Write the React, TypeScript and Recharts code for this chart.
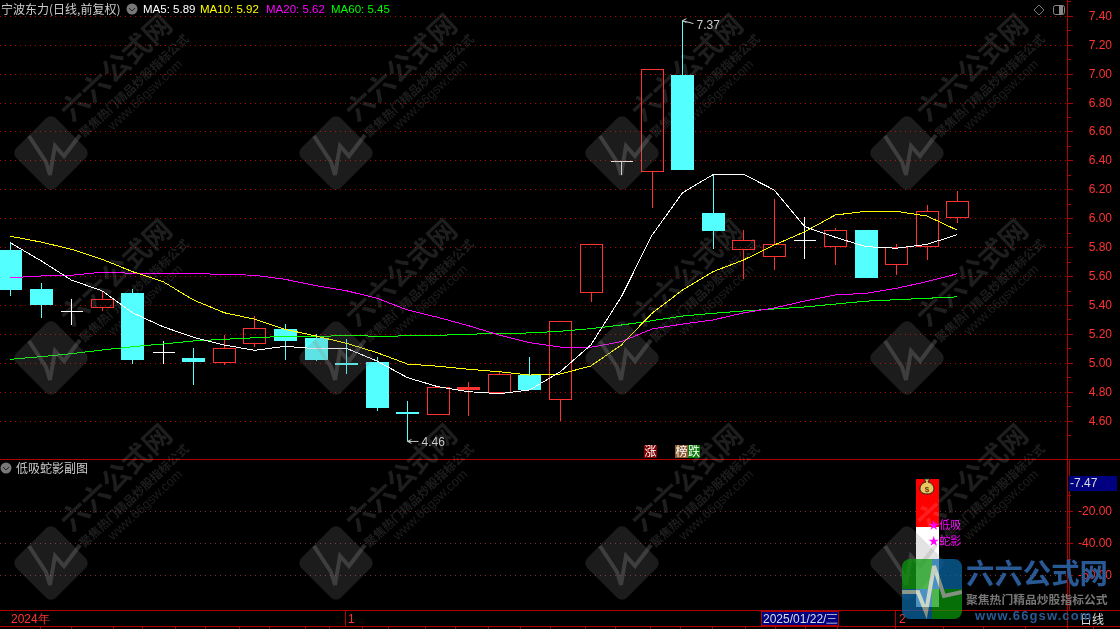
import React from 'react';
import { ComposedChart, Bar, Line, XAxis, YAxis, CartesianGrid, ReferenceDot } from 'recharts';

// daily candles, left to right
const opens = [5.784, 5.514, 5.36, 5.392, 5.486, 5.076, 5.037, 5.011, 5.143, 5.237, 5.175, 5.0, 5.009, 4.665, 4.652, 4.822, 4.804, 4.92, 4.755, 5.491, 6.397, 6.332, 6.994, 6.04, 5.789, 5.74, 5.853, 5.81, 5.922, 5.689, 5.81, 6.014];
const closes = [5.507, 5.403, 5.36, 5.443, 5.023, 5.076, 5.009, 5.106, 5.242, 5.155, 5.023, 4.995, 4.691, 4.657, 4.834, 4.836, 4.924, 4.816, 5.291, 5.823, 6.397, 7.033, 6.339, 5.917, 5.851, 5.823, 5.853, 5.92, 5.592, 5.805, 6.051, 6.121];
const highs = [5.832, 5.553, 5.445, 5.502, 5.514, 5.155, 5.106, 5.196, 5.327, 5.272, 5.202, 5.168, 5.044, 4.74, 4.834, 4.871, 4.947, 5.044, 5.291, 5.823, 6.397, 7.033, 7.37, 6.305, 5.922, 6.137, 6.012, 5.936, 5.922, 5.825, 6.095, 6.192];
const lows = [5.466, 5.314, 5.265, 5.362, 4.995, 4.995, 4.85, 4.989, 5.113, 5.023, 5.014, 4.926, 4.67, 4.46, 4.652, 4.638, 4.795, 4.816, 4.603, 5.426, 6.305, 6.076, 6.339, 5.793, 5.585, 5.648, 5.724, 5.68, 5.592, 5.611, 5.717, 5.973];

const ma5 = [5.834, 5.71, 5.576, 5.502, 5.35, 5.253, 5.18, 5.127, 5.09, 5.118, 5.101, 5.104, 5.016, 4.901, 4.838, 4.804, 4.79, 4.816, 4.942, 5.127, 5.461, 5.885, 6.18, 6.305, 6.307, 6.199, 5.945, 5.872, 5.807, 5.796, 5.823, 5.89];
const ma10 = [5.879, 5.839, 5.789, 5.72, 5.634, 5.565, 5.438, 5.35, 5.305, 5.235, 5.189, 5.139, 5.074, 4.995, 4.98, 4.959, 4.942, 4.919, 4.926, 4.982, 5.127, 5.346, 5.507, 5.634, 5.715, 5.818, 5.91, 6.026, 6.051, 6.051, 6.019, 5.92];
const ma20 = [5.592, 5.604, 5.609, 5.63, 5.623, 5.62, 5.62, 5.616, 5.609, 5.581, 5.537, 5.502, 5.45, 5.369, 5.318, 5.26, 5.196, 5.143, 5.113, 5.111, 5.15, 5.237, 5.272, 5.3, 5.349, 5.383, 5.431, 5.473, 5.484, 5.519, 5.565, 5.62];
const ma60 = [5.028, 5.046, 5.067, 5.092, 5.115, 5.134, 5.155, 5.166, 5.177, 5.187, 5.184, 5.194, 5.187, 5.19, 5.194, 5.201, 5.208, 5.21, 5.222, 5.24, 5.265, 5.295, 5.327, 5.346, 5.362, 5.376, 5.39, 5.41, 5.43, 5.44, 5.45, 5.46];

const priceTicks = [4.5, 4.6, 4.7, 4.8, 4.9, 5.0, 5.1, 5.2, 5.3, 5.4, 5.5, 5.6, 5.7, 5.8, 5.9, 6.0, 6.1, 6.2, 6.3, 6.4, 6.5, 6.6, 6.7, 6.8, 6.9, 7.0, 7.1, 7.2, 7.3, 7.4, 7.5];
const priceLabels = [4.6, 4.8, 5.0, 5.2, 5.4, 5.6, 5.8, 6.0, 6.2, 6.4, 6.6, 6.8, 7.0, 7.2, 7.4];
const subTicks = [-60, -50, -40, -30, -20, -10];
const subLabels = [-60, -40, -20];

// sub panel: one stacked column on the signal day
const signalIndex = [30];
const signalRed = [-30];
const signalWhite = [-50];

const legend = [
  { text: 'MA5: 5.89', color: '#ffffff', x: 143 },
  { text: 'MA10: 5.92', color: '#ffff00', x: 200 },
  { text: 'MA20: 5.62', color: '#ff00ff', x: 266 },
  { text: 'MA60: 5.45', color: '#00ff00', x: 331 },
];
const bottomTicks = [40, 71, 113, 142, 175, 205, 239, 269, 305, 329, 362, 388, 425, 455, 488, 520, 550, 585, 615, 650, 680, 712, 745, 775, 805, 837, 895, 943, 983, 1025, 1093];
const wmCols = [51, 336, 622, 907];
const wmRows = [153, 358, 563];

const candles = opens.map((open, i) => ({ i, open, close: closes[i], high: highs[i], low: lows[i], ma5: ma5[i], ma10: ma10[i], ma20: ma20[i], ma60: ma60[i] }));
const subData = opens.map((_, i) => {
  const k = signalIndex.indexOf(i);
  return { i, red: k >= 0 ? signalRed[k] : null, white: k >= 0 ? signalWhite[k] : null };
});

const LATIN = '"Liberation Sans", Arial, sans-serif';
const CJK = '"Noto Sans CJK SC", "Liberation Sans", sans-serif';
const RED = '#ff3232';
const CYAN = '#54ffff';
const AXIS = '#b00000';
const xDomain = [-0.337, 34.6];

function Candle(props: any) {
  const { x, y, width, height, payload } = props;
  const { open, close, high, low } = payload;
  const cx = Math.floor(x + width / 2) + 0.5;
  const unit = height / (high - low);
  const py = (v: number) => y + (high - v) * unit;
  const top = Math.round(py(Math.max(open, close))) + 0.5;
  const bottom = Math.round(py(Math.min(open, close))) + 0.5;
  const hi = Math.round(y);
  const lo = Math.round(y + height);
  if (open === close) {
    return (
      <g stroke="#fff" shapeRendering="crispEdges">
        <line x1={cx} x2={cx} y1={hi} y2={lo} />
        <line x1={cx - 11} x2={cx + 11} y1={top} y2={top} />
      </g>
    );
  }
  if (close < open) {
    return (
      <g shapeRendering="crispEdges">
        <line x1={cx} x2={cx} y1={hi} y2={lo} stroke={CYAN} />
        <rect x={cx - 11.5} y={top - 0.5} width={23} height={Math.max(bottom - top, 2)} fill={CYAN} />
      </g>
    );
  }
  // hollow body drawn with a closed path so the dotted grid shows through
  return (
    <g stroke={RED} strokeWidth={1} fill="none" shapeRendering="crispEdges">
      <line x1={cx} x2={cx} y1={hi} y2={top} />
      <line x1={cx} x2={cx} y1={bottom} y2={lo} />
      <path d={`M${cx - 11} ${top}H${cx + 11}V${bottom}H${cx - 11}Z`} fill={bottom - top < 4 ? RED : 'none'} />
    </g>
  );
}

function PriceTick(props: any) {
  const { x, y, payload } = props;
  const major = priceLabels.includes(payload.value);
  return (
    <g>
      <line x1={x} x2={x + (major ? 5 : 3)} y1={y} y2={y} stroke={AXIS} shapeRendering="crispEdges" />
      {major && (
        <text x={1112} y={y + 3.5} textAnchor="end" fill={RED} fontSize={12} fontFamily={LATIN}>
          {payload.value.toFixed(2)}
        </text>
      )}
    </g>
  );
}

function SubTick(props: any) {
  const { x, y, payload } = props;
  const major = subLabels.includes(payload.value);
  return (
    <g>
      <line x1={x} x2={x + (major ? 5 : 3)} y1={y} y2={y} stroke={AXIS} shapeRendering="crispEdges" />
      {major && (
        <text x={1112} y={y + 4} textAnchor="end" fill={RED} fontSize={12} fontFamily={LATIN}>
          {payload.value.toFixed(2)}
        </text>
      )}
    </g>
  );
}

// little grey pointer and price next to the extreme candles
function Extreme(props: any) {
  const { cx, cy, text, dy } = props;
  return (
    <g>
      <path d={`M${cx + 4} ${cy - 2}L${cx} ${cy}L${cx + 4} ${cy + 2}M${cx} ${cy}L${cx + 11} ${cy + dy}`} stroke="#ccc" fill="none" />
      <text x={cx + 14} y={cy + dy + 5} fill="#ccc" fontSize={12} fontFamily={LATIN}>{text}</text>
    </g>
  );
}

function MoneyBag(props: any) {
  const { cx, cy } = props;
  return (
    <g>
      <path d={`M${cx - 3} ${cy - 8}h6l-2 3c4 1 6 4 6 7c0 3 -3 5 -7 5s-7 -2 -7 -5c0 -3 2 -6 6 -7z`} fill="#e8c860" stroke="#222" />
      <text x={cx} y={cy + 5} textAnchor="middle" fontSize={8} fontFamily={LATIN} fontWeight={700} fill="#6b3a10">$</text>
    </g>
  );
}

function SignalText(props: any) {
  const { cx, cy, text } = props;
  return (
    <text x={cx} y={cy + 4.5} fill="#ff00ff" fontSize={11} fontFamily={CJK}>{text}</text>
  );
}

function Watermark({ cx, cy }: { cx: number; cy: number }) {
  const fill = 'rgba(128,128,128,0.22)';
  const textStyle = { mixBlendMode: 'lighten' as const };
  return (
    <g transform={`translate(${cx},${cy})`}>
      <rect x={-28} y={-28} width={56} height={56} rx={7} fill={fill} transform="rotate(45)" />
      <polyline points="-22,-17 -5,9 -1,22 4,-7 13,3 29,-18" fill="none" stroke="rgba(150,150,150,0.28)" strokeWidth={4} />
      <text transform="translate(72,-78) rotate(-43)" textAnchor="middle" fontSize={28} fontWeight={700} fontFamily={CJK} fill="#1e1e1e" style={textStyle}>六六公式网</text>
      <text transform="translate(86,-64) rotate(-43)" textAnchor="middle" fontSize={12} fontWeight={700} fontFamily={CJK} fill="#1e1e1e" style={textStyle}>聚焦热门精品炒股指标公式</text>
      <text transform="translate(97,-55) rotate(-43)" textAnchor="middle" fontSize={13} fontFamily={LATIN} fill="#1e1e1e" style={textStyle}>www.66gsw.com</text>
    </g>
  );
}

function Chevron({ cx, cy }: { cx: number; cy: number }) {
  return (
    <g>
      <circle cx={cx} cy={cy} r={5.5} fill="#777" />
      <path d={`M${cx - 3} ${cy - 1}L${cx} ${cy + 2}L${cx + 3} ${cy - 1}`} stroke="#222" fill="none" />
    </g>
  );
}

function Frame() {
  return (
    <svg width={1120} height={629} style={{ position: 'absolute', left: 0, top: 0, pointerEvents: 'none' }}>
      <g stroke={AXIS} shapeRendering="crispEdges">
        <line x1={0} x2={1120} y1={459.5} y2={459.5} />
        <line x1={0} x2={1120} y1={610.5} y2={610.5} />
        <line x1={0} x2={1120} y1={626.5} y2={626.5} />
        <line x1={1067.5} x2={1067.5} y1={0} y2={629} />
        <line x1={1069.5} x2={1069.5} y1={460} y2={610} />
        <line x1={345.5} x2={345.5} y1={610} y2={626} />
        <line x1={895.5} x2={895.5} y1={610} y2={626} />
        {bottomTicks.map((x) => <line key={x} x1={x + 0.5} x2={x + 0.5} y1={626} y2={629} />)}
      </g>
      <text x={1} y={14} fill="#ccc" fontSize={12} fontFamily={CJK}>宁波东力(日线,前复权)</text>
      <Chevron cx={132} cy={9} />
      {legend.map((l) => (
        <text key={l.text} x={l.x} y={13} fill={l.color} fontSize={11.5} fontFamily={LATIN}>{l.text}</text>
      ))}
      <path d="M1039 5L1044 10L1039 15L1034 10Z" fill="none" stroke="#777" />
      <rect x={1053.5} y={5.5} width={11} height={9} rx={2} fill="none" stroke="#888" />
      <rect x={1059} y={6} width={4} height={8} fill="#888" />

      <rect x={644} y={445} width={13} height={13} fill="#800000" />
      <text x={650.5} y={456} textAnchor="middle" fill="#fff" fontSize={12} fontFamily={CJK}>涨</text>
      <rect x={675} y={445} width={13} height={13} fill="#8a5a30" />
      <text x={681.5} y={456} textAnchor="middle" fill="#fff" fontSize={12} fontFamily={CJK}>榜</text>
      <rect x={688} y={445} width={12} height={13} fill="#0a7a0a" />
      <text x={694} y={456} textAnchor="middle" fill="#fff" fontSize={12} fontFamily={CJK}>跌</text>

      <Chevron cx={6} cy={468} />
      <text x={16} y={473} fill="#ccc" fontSize={12} fontFamily={CJK}>低吸蛇影副图</text>

      <rect x={1069} y={476} width={48} height={15} fill="#000080" />
      <text x={1070} y={487} fill="#ddd" fontSize={12} fontFamily={LATIN}>-7.47</text>

      <text x={11} y={623} fill={RED} fontSize={12} fontFamily={LATIN}>2024年</text>
      <text x={348} y={623} fill={RED} fontSize={12} fontFamily={LATIN}>1</text>
      <text x={899} y={623} fill={RED} fontSize={12} fontFamily={LATIN}>2</text>
      <rect x={761.5} y={611.5} width={77} height={14} fill="#000080" stroke={AXIS} />
      <text x={763} y={623} fill="#ddd" fontSize={12} fontFamily={LATIN}>2025/01/22/三</text>
      <text x={1080} y={624} fill="#ddd" fontSize={12} fontFamily={CJK}>日线</text>

      {wmRows.map((r) => wmCols.map((c) => <Watermark key={`${c}-${r}`} cx={c} cy={r} />))}

      {/* site logo, lower right corner */}
      <g opacity={0.72}>
        <clipPath id="logoClip"><rect x={902} y={559} width={60} height={60} rx={8} /></clipPath>
        <g clipPath="url(#logoClip)">
          <rect x={902} y={559} width={30} height={30} fill="#0a9a0a" />
          <rect x={932} y={559} width={30} height={30} fill="#0a68a8" />
          <rect x={902} y={589} width={30} height={30} fill="#0a68a8" />
          <rect x={932} y={589} width={30} height={30} fill="#0a9a0a" />
          <polyline points="902,592 918,592 926,612 934,566 944,596 962,592" fill="none" stroke="#b8c8b8" strokeWidth={4} />
        </g>
      </g>
      <text x={966} y={584} fontSize={28.4} fontWeight={700} fontFamily={CJK} fill="#2a5a95">六六公式网</text>
      <text x={966} y={604} fontSize={11.8} fontWeight={700} fontFamily={CJK} fill="#777">聚焦热门精品炒股指标公式</text>
      <text x={975} y={620} fontSize={13} fontWeight={700} fontFamily={LATIN} fill="#2a5a95" letterSpacing={1.1}>www.66gsw.com</text>
    </svg>
  );
}

export default function App() {
  return (
    <div style={{ position: 'absolute', left: 0, top: 0, width: 1120, height: 629, background: '#000', overflow: 'hidden' }}>
      <div style={{ position: 'absolute', left: 0, top: 0 }}>
        <ComposedChart width={1120} height={459} data={candles} margin={{ top: 0, right: 0, bottom: 0, left: 0 }}>
          <CartesianGrid vertical={false} horizontalValues={priceLabels} stroke="#b80000" strokeDasharray="1 4" shapeRendering="crispEdges" />
          <XAxis dataKey="i" type="number" domain={xDomain} hide allowDataOverflow />
          <YAxis
            orientation="right"
            width={52.5}
            domain={[4.3385, 7.5127]}
            ticks={priceTicks}
            interval={0}
            tick={<PriceTick />}
            tickLine={false}
            tickSize={0}
            tickMargin={0}
            axisLine={false}
            allowDataOverflow
          />
          <Bar dataKey={(d: any) => [d.low, d.high]} barSize={23} shape={<Candle />} isAnimationActive={false} />
          <Line dataKey="ma60" stroke="#00ff00" dot={false} activeDot={false} strokeWidth={1} shapeRendering="crispEdges" isAnimationActive={false} />
          <Line dataKey="ma20" stroke="#ff00ff" dot={false} activeDot={false} strokeWidth={1} shapeRendering="crispEdges" isAnimationActive={false} />
          <Line dataKey="ma10" stroke="#ffff00" dot={false} activeDot={false} strokeWidth={1} shapeRendering="crispEdges" isAnimationActive={false} />
          <Line dataKey="ma5" stroke="#ffffff" dot={false} activeDot={false} strokeWidth={1} shapeRendering="crispEdges" isAnimationActive={false} />
          <ReferenceDot x={22} y={7.37} r={0} shape={<Extreme text="7.37" dy={3} />} />
          <ReferenceDot x={13} y={4.46} r={0} shape={<Extreme text="4.46" dy={0} />} />
        </ComposedChart>
      </div>
      <div style={{ position: 'absolute', left: 0, top: 460 }}>
        <ComposedChart width={1120} height={150} data={subData} margin={{ top: 0, right: 0, bottom: 0, left: 0 }}>
          <CartesianGrid vertical={false} horizontalValues={subLabels} stroke="#803030" strokeDasharray="1 4" shapeRendering="crispEdges" />
          <XAxis dataKey="i" type="number" domain={xDomain} hide allowDataOverflow />
          <YAxis
            orientation="right"
            width={52.5}
            domain={[-81.69, 12.06]}
            ticks={subTicks}
            interval={0}
            tick={<SubTick />}
            tickLine={false}
            tickSize={0}
            tickMargin={0}
            axisLine={false}
            allowDataOverflow
          />
          <Bar dataKey="red" stackId="signal" fill="#ff0000" barSize={23} shapeRendering="crispEdges" isAnimationActive={false} />
          <Bar dataKey="white" stackId="signal" fill="#ffffff" barSize={23} shapeRendering="crispEdges" isAnimationActive={false} />
          <ReferenceDot x={30} y={-4.8} r={0} shape={<MoneyBag />} />
          <ReferenceDot x={30.04} y={-28} r={0} shape={<SignalText text="★低吸" />} />
          <ReferenceDot x={30.04} y={-38} r={0} shape={<SignalText text="★蛇影" />} />
        </ComposedChart>
      </div>
      <Frame />
    </div>
  );
}
